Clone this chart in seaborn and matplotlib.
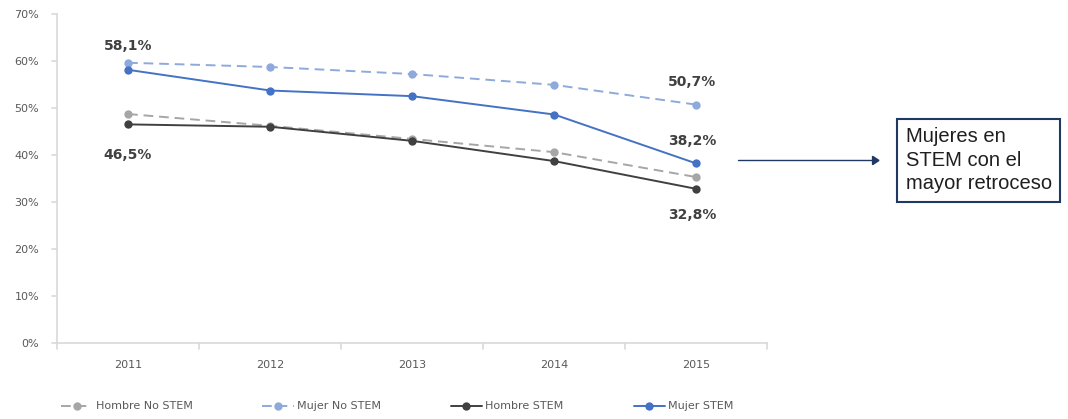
import seaborn as sns
import matplotlib.pyplot as plt
import pandas as pd

# datos
years = ['2011', '2012', '2013', '2014', '2015']
hombre_no_stem = [48.7, 46.2, 43.4, 40.6, 35.3]
mujer_no_stem = [59.6, 58.7, 57.2, 54.9, 50.7]
hombre_stem = [46.5, 46.0, 43.0, 38.7, 32.8]
mujer_stem = [58.1, 53.7, 52.5, 48.6, 38.2]

series_names = ['Hombre No STEM', 'Mujer No STEM', 'Hombre STEM', 'Mujer STEM']
yticks = [0, 10, 20, 30, 40, 50, 60, 70]

rows = []
for name, vals in zip(series_names, [hombre_no_stem, mujer_no_stem, hombre_stem, mujer_stem]):
    for i, v in enumerate(vals):
        rows.append({'pos': i, 'year': years[i], 'serie': name, 'valor': v})
data = pd.DataFrame(rows)

sns.set_style('white')
plt.rcParams['font.family'] = ['DejaVu Sans']

palette = {'Hombre No STEM': '#a6a6a6', 'Mujer No STEM': '#8eaadb',
           'Hombre STEM': '#404040', 'Mujer STEM': '#4472c4'}
dashes = {'Hombre No STEM': (5, 3), 'Mujer No STEM': (5, 3),
          'Hombre STEM': '', 'Mujer STEM': ''}

fig = plt.figure(figsize=(10.68, 4.19), dpi=100)
ax = fig.add_axes([0.0534, 0.181, 0.665, 0.786])

sns.lineplot(data=data, x='pos', y='valor', hue='serie', style='serie',
             hue_order=series_names, style_order=series_names,
             palette=palette, dashes=dashes, markers={n: 'o' for n in series_names},
             markersize=6, markeredgewidth=0, linewidth=1.4, ax=ax, legend=True)

ax.set_xlim(-0.5, 4.5)
ax.set_ylim(0, 70)
ax.set_yticks(yticks)
ax.set_yticklabels([f'{t}%' for t in yticks], fontsize=8, color='#595959')
ax.set_xticks(range(len(years)))
ax.set_xticklabels(years, fontsize=8, color='#595959')
ax.set_xlabel('')
ax.set_ylabel('')
ax.tick_params(axis='x', length=0, pad=12)
ax.tick_params(axis='y', length=0, pad=13)
for s in ['top', 'right']:
    ax.spines[s].set_visible(False)
for s in ['left', 'bottom']:
    ax.spines[s].set_color('#d9d9d9')
    ax.spines[s].set_linewidth(1.2)
# marcas entre categorias en el eje x
for b in [-0.5, 0.5, 1.5, 2.5, 3.5, 4.5]:
    ax.plot([b, b], [0, -1.3], color='#d9d9d9', lw=1.2, clip_on=False)
for t in yticks:
    ax.plot([-0.5, -0.535], [t, t], color='#d9d9d9', lw=1.2, clip_on=False)

lab = dict(fontsize=10, fontweight='bold', color='#404040', ha='center')
ax.annotate('58,1%', (0, mujer_stem[0]), xytext=(0, 12), textcoords='offset points', va='bottom', **lab)
ax.annotate('46,5%', (0, hombre_stem[0]), xytext=(0, -17), textcoords='offset points', va='top', **lab)
ax.annotate('50,7%', (4, mujer_no_stem[4]), xytext=(-3, 11), textcoords='offset points', va='bottom', **lab)
ax.annotate('38,2%', (4, mujer_stem[4]), xytext=(-3, 11), textcoords='offset points', va='bottom', **lab)
ax.annotate('32,8%', (4, hombre_stem[4]), xytext=(-3, -14), textcoords='offset points', va='top', **lab)

# caja de comentario con flecha
fig.text(0.848, 0.617, 'Mujeres en\nSTEM con el\nmayor retroceso', fontsize=14.5,
         family='Liberation Sans', color='#1f1f1f', va='center', ha='left', linespacing=1.3,
         bbox=dict(boxstyle='square,pad=0.42', fc='white', ec='#1f3864', lw=1.5))
fig.add_artist(plt.Line2D([0.691, 0.817], [0.617, 0.617], color='#1f3864', lw=1.0))
fig.add_artist(plt.Polygon([[0.817, 0.607], [0.817, 0.627], [0.823, 0.617]], color='#1f3864'))

handles, labels = ax.get_legend_handles_labels()
ax.get_legend().remove()
fig.legend(handles, labels, loc='center', bbox_to_anchor=(0.372, 0.03), ncol=4,
           frameon=False, fontsize=8, labelcolor='#595959', handlelength=2.8,
           columnspacing=6.3, handletextpad=0.3)

fig.savefig('out.png', dpi=100)
